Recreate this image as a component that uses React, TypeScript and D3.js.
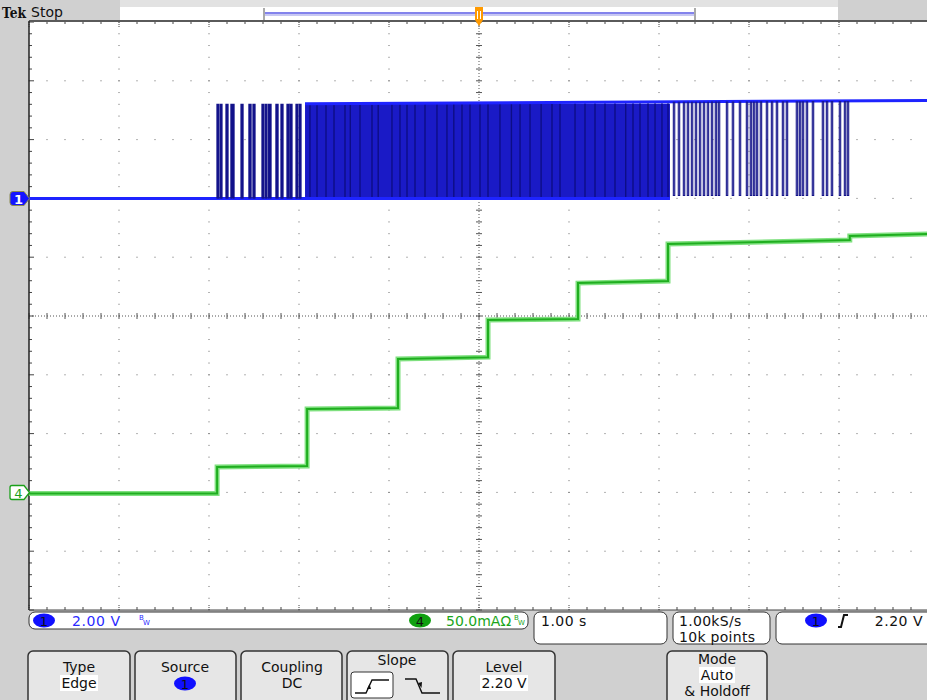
import React from "react";
import * as d3 from "d3";

// ---- Data ----
// Time axis: 1.00 s/div, 10 divisions, trigger at centre (t = 0)
const timeDomain = [-5, 5];
// Channel 1 (2.00 V/div), ground marker 2 div above centre
const ch1LowLevel = 0;
const ch1HighStart = 3.22; // V, at start of dense band
const ch1HighEnd = 3.33; // V, at right edge
const ch1PulseHigh = 3.2;
const ch1DipLow = 0.1;
// sparse positive pulses [start s, end s]
const ch1SparsePulses: [number, number][] = [
  [-2.911, -2.889], [-2.872, -2.856], [-2.811, -2.789], [-2.756, -2.722],
  [-2.644, -2.622], [-2.556, -2.533], [-2.511, -2.489], [-2.411, -2.389],
  [-2.372, -2.356], [-2.339, -2.311], [-2.256, -2.233], [-2.2, -2.178],
  [-2.133, -2.111], [-2.1, -2.078], [-2.033, -2.017], [-2.0, -1.978],
];
// dense toggling band [start s, end s]
const ch1DenseBand: [number, number] = [-1.933, 2.122];
const ch1DenseStripes = [
  -1.878, -1.8, -1.7, -1.611, -1.489, -1.43, -1.322, -1.189, -1.12, -0.967,
  -0.878, -0.8, -0.711, -0.6, -0.467, -0.356, -0.28, -0.189, -0.1, 0.011,
  0.1, 0.233, 0.36, 0.456, 0.567, 0.69, 0.811, 0.9, 1.067, 1.178, 1.289, 1.4,
  1.511, 1.63, 1.711, 1.789, 1.878, 1.956, 2.033, 2.1,
];
// narrow negative dips after the dense band (s)
const ch1Dips = [
  2.167, 2.222, 2.278, 2.322, 2.367, 2.411, 2.456, 2.5, 2.544, 2.589, 2.633,
  2.667, 2.756, 2.822, 2.9, 2.978, 3.022, 3.056, 3.089, 3.133, 3.2, 3.256,
  3.311, 3.378, 3.422, 3.533, 3.567, 3.6, 3.644, 3.711, 3.822, 3.867, 3.922,
  4.011, 4.067, 4.1,
];
// Channel 4 (50.0 mA/div), ground marker 3 div below centre
const ch4StepTimes = [-5, -2.91, -1.91, -0.9, 0.1, 1.1, 2.1, 4.12];
const ch4StartLevels = [-1, 21.6, 71, 113.4, 146.6, 178, 211.2, 218];
const ch4EndLevels = [-1, 22.4, 71.8, 115, 147.4, 179.8, 214.6, 219.7];

// Labels
const ch1Scale = "2.00 V";
const ch4Scale = "50.0mAΩ";
const timebase = "1.00 s";
const sampleRate = "1.00kS/s";
const recordLength = "10k points";
const trigLevel = "2.20 V";

const FONT = "DejaVu Sans, Verdana, sans-serif";

const xT = d3.scaleLinear().domain(timeDomain).range([29, 929]);
const yDiv = d3.scaleLinear().domain([-5, 5]).range([610, 22]);
const y1 = d3.scaleLinear().domain([-14, 6]).range([610, 22]);
const y4 = d3.scaleLinear().domain([-100, 400]).range([610, 22]);

function Grid() {
  const els: React.ReactNode[] = [];
  const majorsX = d3.range(-4, 5);
  const majorsY = d3.range(-4, 5);
  const minorX = d3.range(-5, 5.001, 0.2);
  const minorY = d3.range(-5, 5.001, 0.2);
  majorsX.forEach((t) => {
    if (t === 0) return;
    minorY.forEach((v, k) => {
      els.push(<rect key={`vx${t}_${k}`} x={xT(t) - 0.5} y={yDiv(v) - 0.5} width={1} height={1} fill="#666" />);
    });
  });
  majorsY.forEach((v) => {
    if (v === 0) return;
    minorX.forEach((t, k) => {
      els.push(<rect key={`hy${v}_${k}`} x={xT(t) - 0.5} y={yDiv(v) - 0.5} width={1} height={1} fill="#666" />);
    });
  });
  d3.range(29, 929, 3).forEach((px, k) =>
    els.push(<rect key={`cx${k}`} x={px} y={yDiv(0) - 0.5} width={1} height={1} fill="#555" />)
  );
  d3.range(22, 610, 3).forEach((py, k) =>
    els.push(<rect key={`cy${k}`} x={xT(0) - 0.5} y={py} width={1} height={1} fill="#555" />)
  );
  minorX.forEach((t, k) =>
    els.push(<line key={`ctx${k}`} x1={xT(t)} x2={xT(t)} y1={yDiv(0) - 3} y2={yDiv(0) + 3} stroke="#555" strokeWidth={1} />)
  );
  minorY.forEach((v, k) =>
    els.push(<line key={`cty${k}`} x1={xT(0) - 3} x2={xT(0) + 3} y1={yDiv(v)} y2={yDiv(v)} stroke="#555" strokeWidth={1} />)
  );
  minorX.forEach((t, k) => {
    const major = Math.abs(t - Math.round(t)) < 1e-6;
    els.push(<line key={`tt${k}`} x1={xT(t)} x2={xT(t)} y1={22} y2={major ? 27 : 24} stroke="#444" strokeWidth={1} strokeDasharray={major ? "1 1" : undefined} />);
    els.push(<line key={`bt${k}`} x1={xT(t)} x2={xT(t)} y1={610} y2={major ? 605 : 607} stroke="#444" strokeWidth={1} strokeDasharray={major ? "1 1" : undefined} />);
  });
  minorY.forEach((v, k) => {
    const major = Math.abs(v - Math.round(v)) < 1e-6;
    els.push(<line key={`lt${k}`} x1={29} x2={major ? 34 : 32} y1={yDiv(v)} y2={yDiv(v)} stroke="#444" strokeWidth={1} />);
  });
  return <g>{els}</g>;
}

function Ch1() {
  const els: React.ReactNode[] = [];
  const navy = "#14148a";
  const bright = "#1e24ff";
  const hi = d3.scaleLinear().domain([ch1DenseBand[0], 5]).range([ch1HighStart, ch1HighEnd]);
  els.push(
    <rect key="band" x={xT(ch1DenseBand[0])} y={y1(hi(ch1DenseBand[0]))}
      width={xT(ch1DenseBand[1]) - xT(ch1DenseBand[0])}
      height={y1(ch1LowLevel) - y1(hi(ch1DenseBand[0]))} fill="#1a1ac6" />
  );
  ch1DenseStripes.forEach((t, k) =>
    els.push(<line key={`st${k}`} x1={xT(t)} x2={xT(t)} y1={y1(hi(t))} y2={y1(ch1LowLevel)} stroke="#0a0a70" strokeWidth={1.4} strokeOpacity={0.75} />)
  );
  els.push(<line key="low" x1={xT(-5)} x2={xT(ch1DenseBand[1])} y1={y1(ch1LowLevel)} y2={y1(ch1LowLevel)} stroke={bright} strokeWidth={3} />);
  els.push(<line key="high" x1={xT(ch1DenseBand[0])} x2={xT(5)} y1={y1(hi(ch1DenseBand[0]))} y2={y1(hi(5))} stroke={bright} strokeWidth={3} />);
  ch1SparsePulses.forEach(([s, e], k) =>
    els.push(
      <path key={`p${k}`} d={`M${xT(s)},${y1(ch1LowLevel)}V${y1(ch1PulseHigh)}H${xT(e)}V${y1(ch1LowLevel)}`}
        fill="#10108c" stroke={navy} strokeWidth={1.3} />
    )
  );
  ch1Dips.forEach((t, k) =>
    els.push(
      <path key={`d${k}`} d={`M${xT(t) - 0.7},${y1(hi(t))}V${y1(ch1DipLow)}H${xT(t) + 0.7}V${y1(hi(t))}`}
        fill="none" stroke={navy} strokeWidth={1.1} />
    )
  );
  return <g>{els}</g>;
}

function Ch4() {
  const pts: [number, number][] = [];
  ch4StepTimes.forEach((t, i) => {
    const tEnd = i + 1 < ch4StepTimes.length ? ch4StepTimes[i + 1] : 5;
    pts.push([t, ch4StartLevels[i]]);
    pts.push([tEnd, ch4EndLevels[i]]);
  });
  const line = d3.line<[number, number]>().x((d) => xT(d[0])).y((d) => y4(d[1]));
  const d = line(pts) || "";
  return (
    <g>
      <path d={d} fill="none" stroke="#7fe07f" strokeWidth={5} />
      <path d={d} fill="none" stroke="#1fae1f" strokeWidth={2} />
    </g>
  );
}

function Button({ x, w, children }: { x: number; w: number; children?: React.ReactNode }) {
  return (
    <g>
      <rect x={x} y={651} width={w} height={54} rx={5} fill="#e6e6e6" stroke="#333" strokeWidth={1.5} />
      {children}
    </g>
  );
}

function HiText({ x, y, text, w }: { x: number; y: number; text: string; w: number }) {
  return (
    <g>
      <rect x={x - w / 2} y={y - 13} width={w} height={16} fill="#fff" />
      <text x={x} y={y} textAnchor="middle" fontSize={14} fontFamily={FONT} fill="#111">{text}</text>
    </g>
  );
}

export default function App() {
  return (
    <svg width={927} height={700} style={{ position: "absolute", left: 0, top: 0, display: "block" }}>
      <rect x={0} y={0} width={927} height={700} fill="#d0d0d0" />
      <rect x={120} y={0} width={718} height={7} fill="#e2e2e2" />
      <rect x={120} y={7} width={718} height={14} fill="#fff" />
      <rect x={29} y={22} width={900} height={588} fill="#fff" />

      {/* top bar */}
      <text x={2} y={18} fontSize={15} fontWeight="bold" fontFamily="DejaVu Serif, serif" fill="#111" textLength={24} lengthAdjust="spacingAndGlyphs">Tek</text>
      <text x={31} y={17} fontSize={14} fontFamily={FONT} fill="#111">Stop</text>
      <line x1={264} x2={695} y1={13} y2={13} stroke="#5a5ae6" strokeWidth={1.5} />
      <line x1={264} x2={695} y1={15} y2={15} stroke="#c8c8f2" strokeWidth={2} />
      <rect x={263} y={8} width={2} height={13} fill="#aaa" />
      <rect x={694} y={8} width={2} height={13} fill="#aaa" />

      <Grid />
      <line x1={29} x2={929} y1={21} y2={21} stroke="#5a5a5a" strokeWidth={2} />
      <line x1={29} x2={29} y1={21} y2={610} stroke="#222" strokeWidth={1.5} />
      <line x1={29} x2={929} y1={610} y2={610} stroke="#444" strokeWidth={1} />

      <Ch1 />
      <Ch4 />

      {/* trigger position marker */}
      <rect x={475} y={7} width={8} height={2} fill="#ff9a00" />
      <path d="M475,9H483V20L479,26L475,20Z" fill="#ff9a00" />
      <path d="M477.5,11V19M480.5,11V19" stroke="#fff" strokeWidth={1} />

      {/* channel markers */}
      <path d="M13,191.5H24L29.5,198.5L24,205.5H13Q10,205.5 10,202.5V194.5Q10,191.5 13,191.5Z" fill="#1414ff" stroke="#8a8a50" strokeWidth={1} />
      <text x={18.5} y={203.5} textAnchor="middle" fontSize={13} fontWeight="bold" fontFamily={FONT} fill="#fff">1</text>
      <path d="M12,485.5H24L29.5,492.5L24,499.5H12Q10,499.5 10,497.5V487.5Q10,485.5 12,485.5Z" fill="#fff" stroke="#1aa01a" strokeWidth={1.3} />
      <text x={18.5} y={497.5} textAnchor="middle" fontSize={13} fontFamily={FONT} fill="#1aa01a">4</text>

      {/* status bar */}
      <rect x={29} y={612} width={499} height={17} rx={6} fill="#fff" stroke="#333" strokeWidth={1} />
      <ellipse cx={44} cy={620.5} rx={11} ry={7} fill="#1010ff" />
      <text x={44} y={625.5} textAnchor="middle" fontSize={13} fontFamily={FONT} fill="#111">1</text>
      <text x={72} y={626} fontSize={14} fontFamily={FONT} fill="#2a2aff" letterSpacing={0.6}>{ch1Scale}</text>
      <text x={139} y={620} fontSize={7} fontFamily={FONT} fill="#2a2aff">B</text>
      <text x={143} y={625} fontSize={7} fontFamily={FONT} fill="#2a2aff">W</text>
      <ellipse cx={420} cy={620.5} rx={11} ry={7} fill="#10a010" />
      <text x={420} y={625.5} textAnchor="middle" fontSize={13} fontFamily={FONT} fill="#111">4</text>
      <text x={446} y={626} fontSize={14} fontFamily={FONT} fill="#1aa51a">{ch4Scale}</text>
      <text x={514} y={620} fontSize={7} fontFamily={FONT} fill="#1aa51a">B</text>
      <text x={518} y={625} fontSize={7} fontFamily={FONT} fill="#1aa51a">W</text>

      <rect x={534} y={612} width={133} height={32} rx={6} fill="#fff" stroke="#333" strokeWidth={1} />
      <text x={541} y={626} fontSize={14} fontFamily={FONT} fill="#111" letterSpacing={0.5}>{timebase}</text>

      <rect x={673} y={612} width={97} height={32} rx={6} fill="#fff" stroke="#333" strokeWidth={1} />
      <text x={679} y={626} fontSize={14} fontFamily={FONT} fill="#111" letterSpacing={0.3}>{sampleRate}</text>
      <text x={679} y={642} fontSize={14} fontFamily={FONT} fill="#111" letterSpacing={0.3}>{recordLength}</text>

      <rect x={776} y={612} width={170} height={32} rx={6} fill="#fff" stroke="#333" strokeWidth={1} />
      <ellipse cx={816} cy={620.5} rx={11} ry={7} fill="#1010ff" />
      <text x={816} y={625.5} textAnchor="middle" fontSize={13} fontFamily={FONT} fill="#111">1</text>
      <path d="M838,627L841,627L844,615L848,615" fill="none" stroke="#111" strokeWidth={2} />
      <text x={923} y={626} textAnchor="end" fontSize={14} fontFamily={FONT} fill="#111" letterSpacing={0.5}>{trigLevel}</text>

      {/* menu buttons */}
      <Button x={28} w={102}>
        <text x={79} y={672} textAnchor="middle" fontSize={14} fontFamily={FONT} fill="#111">Type</text>
        <HiText x={79} y={688} text="Edge" w={38} />
      </Button>
      <Button x={135} w={101}>
        <text x={185} y={672} textAnchor="middle" fontSize={14} fontFamily={FONT} fill="#111">Source</text>
        <ellipse cx={185} cy={683.5} rx={11} ry={7} fill="#1010ff" />
        <text x={185} y={688.5} textAnchor="middle" fontSize={13} fontFamily={FONT} fill="#111">1</text>
      </Button>
      <Button x={241} w={101}>
        <text x={292} y={672} textAnchor="middle" fontSize={14} fontFamily={FONT} fill="#111">Coupling</text>
        <text x={292} y={688} textAnchor="middle" fontSize={14} fontFamily={FONT} fill="#111">DC</text>
      </Button>
      <Button x={347} w={101}>
        <text x={397} y={665} textAnchor="middle" fontSize={14} fontFamily={FONT} fill="#111">Slope</text>
        <rect x={351} y={672} width={42} height={26} rx={3} fill="#fff" stroke="#333" strokeWidth={1} />
        <path d="M355,693H366L372,680H389" fill="none" stroke="#111" strokeWidth={1.4} />
        <path d="M367,689L369.5,684L371,689Z" fill="#111" />
        <path d="M405,679H416L422,693H440" fill="none" stroke="#111" strokeWidth={1.4} />
        <path d="M418,683L421.5,688L422,682Z" fill="#111" />
      </Button>
      <Button x={453} w={102}>
        <text x={504} y={672} textAnchor="middle" fontSize={14} fontFamily={FONT} fill="#111">Level</text>
        <HiText x={504} y={688} text="2.20 V" w={48} />
      </Button>
      <Button x={667} w={100}>
        <text x={717} y={664} textAnchor="middle" fontSize={14} fontFamily={FONT} fill="#111">Mode</text>
        <HiText x={717} y={680} text="Auto" w={36} />
        <text x={717} y={696} textAnchor="middle" fontSize={14} fontFamily={FONT} fill="#111">&amp; Holdoff</text>
      </Button>
    </svg>
  );
}
